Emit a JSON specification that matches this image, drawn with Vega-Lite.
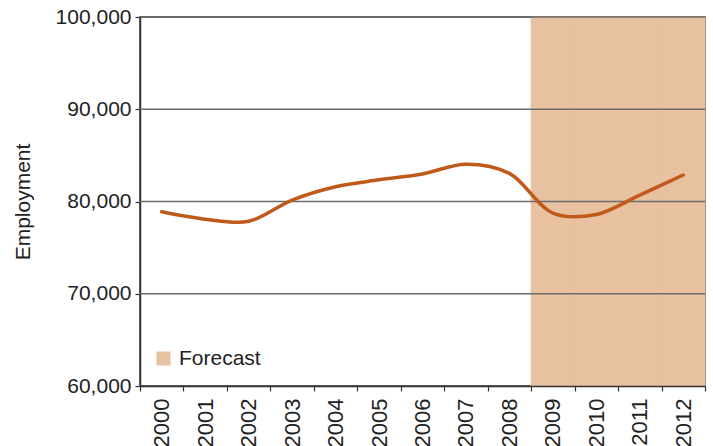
{
  "$schema": "https://vega.github.io/schema/vega-lite/v6.json",
  "width": 565,
  "height": 369,
  "autosize": {"type": "none"},
  "padding": {"left": 140, "top": 17, "right": 8, "bottom": 60},
  "background": "white",
  "config": {
    "view": {"stroke": "#333333", "strokeWidth": 1.5},
    "font": "Liberation Sans",
    "axis": {"labelFont": "Liberation Sans", "titleFont": "Liberation Sans", "labelColor": "#222222", "titleColor": "#222222", "domainColor": "#333333", "tickColor": "#333333", "domainWidth": 1.5, "tickWidth": 1.2, "grid": false}
  },
  "datasets": {
    "emp": [
      {"year": "2000", "employment": 78880},
      {"year": "2001", "employment": 78080},
      {"year": "2002", "employment": 77850},
      {"year": "2003", "employment": 80150},
      {"year": "2004", "employment": 81600},
      {"year": "2005", "employment": 82350},
      {"year": "2006", "employment": 82980},
      {"year": "2007", "employment": 84050},
      {"year": "2008", "employment": 83050},
      {"year": "2009", "employment": 78750},
      {"year": "2010", "employment": 78600},
      {"year": "2011", "employment": 80700},
      {"year": "2012", "employment": 82870}
    ],
    "forecast": [
      {"year": "2009", "lo": 60000, "hi": 100000, "label": "Forecast"},
      {"year": "2010", "lo": 60000, "hi": 100000, "label": "Forecast"},
      {"year": "2011", "lo": 60000, "hi": 100000, "label": "Forecast"},
      {"year": "2012", "lo": 60000, "hi": 100000, "label": "Forecast"}
    ],
    "grid": [
      {"v": 70000}, {"v": 80000}, {"v": 90000}, {"v": 100000}
    ]
  },
  "layer": [
    {
      "data": {"name": "forecast"},
      "mark": {"type": "rect", "strokeWidth": 1},
      "encoding": {
        "x": {"field": "year", "type": "ordinal",
          "scale": {"domain": ["2000","2001","2002","2003","2004","2005","2006","2007","2008","2009","2010","2011","2012"], "paddingInner": 0, "paddingOuter": 0},
          "axis": {"title": null, "labelAngle": -90, "labelAlign": "right", "labelBaseline": "middle", "labelFontSize": 22, "labelPadding": 7, "tickBand": "extent", "tickSize": 5}
        },
        "y": {"field": "lo", "type": "quantitative",
          "scale": {"domain": [60000, 100000], "nice": false},
          "axis": {"title": "Employment", "titleFontSize": 21, "titleFontWeight": "normal", "titleX": -107, "values": [60000, 70000, 80000, 90000, 100000], "format": ",.0f", "labelFontSize": 21, "tickSize": 5, "labelPadding": 4}
        },
        "y2": {"field": "hi"},
        "color": {"field": "label", "type": "nominal", "scale": {"range": ["#e8c1a0"]},
          "legend": {"title": null, "orient": "none", "legendX": 13, "legendY": 331, "symbolType": "square", "symbolSize": 196, "symbolStrokeWidth": 0, "symbolOpacity": 1, "labelFontSize": 21, "labelFont": "Liberation Sans", "labelColor": "#222222", "labelOffset": 5}
        },
        "stroke": {"value": "#e8c1a0"}
      }
    },
    {
      "data": {"name": "grid"},
      "mark": {"type": "rule", "color": "#6b6b6b", "strokeWidth": 1.5},
      "encoding": {"y": {"field": "v", "type": "quantitative"}}
    },
    {
      "data": {"name": "emp"},
      "mark": {"type": "line", "interpolate": "catmull-rom", "color": "#c05a1a", "strokeWidth": 3.5, "strokeCap": "round"},
      "encoding": {
        "x": {"field": "year", "type": "ordinal"},
        "y": {"field": "employment", "type": "quantitative"}
      }
    }
  ]
}
